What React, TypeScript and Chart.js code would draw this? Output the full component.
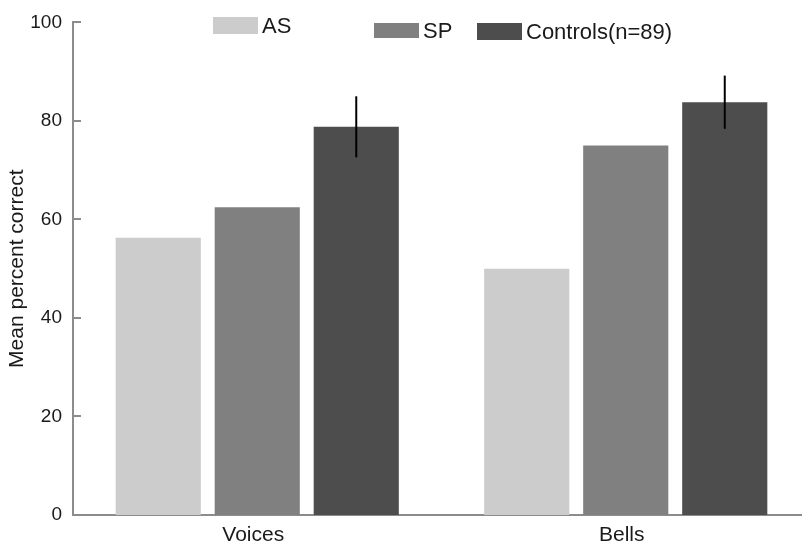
import React, { useEffect, useRef } from "react";
import { Chart, registerables } from "chart.js";

Chart.register(...registerables);

const categories = ["Voices", "Bells"];
const seriesNames = ["AS", "SP", "Controls(n=89)"];
const asValues = [56.3, 50.0];
const spValues = [62.5, 75.0];
const controlValues = [78.8, 83.8];
const controlErrors = [6.2, 5.4];
const yTicks = [0, 20, 40, 60, 80, 100];
const colors = ["#cccccc", "#808080", "#4d4d4d"];

// legend layout (free-placed in the original figure)
const legendBoxes = [
  { x: 213, y: 17, w: 45, h: 17 },
  { x: 374, y: 23, w: 45, h: 15 },
  { x: 477, y: 23, w: 45, h: 17 },
];

const FONT = "'Liberation Sans', Arial, sans-serif";
const AXIS_COLOR = "#8c8c8c";

export default function App() {
  const ref = useRef<HTMLCanvasElement | null>(null);

  useEffect(() => {
    document.body.style.margin = "0";
    const canvas = ref.current;
    if (!canvas) return;

    const extras = {
      id: "extras",
      afterDatasetsDraw(chart: any) {
        const ctx = chart.ctx;
        const y = chart.scales.y;
        const meta = chart.getDatasetMeta(2);
        ctx.save();
        ctx.strokeStyle = "#000000";
        ctx.lineWidth = 2;
        meta.data.forEach((bar: any, i: number) => {
          const v = controlValues[i];
          const e = controlErrors[i];
          ctx.beginPath();
          ctx.moveTo(bar.x, y.getPixelForValue(v + e));
          ctx.lineTo(bar.x, y.getPixelForValue(v - e));
          ctx.stroke();
        });
        // inward ticks on y axis
        ctx.strokeStyle = AXIS_COLOR;
        ctx.lineWidth = 2;
        const ax = chart.chartArea.left;
        yTicks.forEach((t) => {
          if (t === 0) return;
          const py = Math.round(y.getPixelForValue(t));
          ctx.beginPath();
          ctx.moveTo(ax, py);
          ctx.lineTo(ax + 8, py);
          ctx.stroke();
        });
        ctx.restore();
      },
      afterDraw(chart: any) {
        const ctx = chart.ctx;
        ctx.save();
        ctx.font = `22px ${FONT}`;
        ctx.textBaseline = "middle";
        ctx.textAlign = "left";
        seriesNames.forEach((name, i) => {
          const b = legendBoxes[i];
          ctx.fillStyle = colors[i];
          ctx.fillRect(b.x, b.y, b.w, b.h);
          ctx.fillStyle = "#1a1a1a";
          ctx.fillText(name, b.x + b.w + 4, b.y + b.h / 2 + 1);
        });
        ctx.restore();
      },
    };

    const chart = new Chart(canvas, {
      type: "bar",
      data: {
        labels: categories,
        datasets: [
          { label: seriesNames[0], data: asValues, backgroundColor: colors[0] },
          { label: seriesNames[1], data: spValues, backgroundColor: colors[1] },
          { label: seriesNames[2], data: controlValues, backgroundColor: colors[2] },
        ],
      },
      options: {
        animation: false,
        responsive: false,
        maintainAspectRatio: false,
        layout: { padding: { top: 20, right: 0, left: 0, bottom: 0 } },
        datasets: {
          bar: { categoryPercentage: 0.806, barPercentage: 0.86 },
        },
        plugins: {
          legend: { display: false },
          tooltip: { enabled: false },
        },
        scales: {
          x: {
            grid: { display: false, drawTicks: false },
            border: { display: true, color: AXIS_COLOR, width: 2 },
            ticks: {
              padding: 8,
              labelOffset: -4,
              color: "#1a1a1a",
              font: { family: FONT, size: 21 },
            },
            afterFit(scale: any) {
              scale.height = 29;
            },
          },
          y: {
            min: 0,
            max: 100,
            afterBuildTicks(scale: any) {
              scale.ticks = yTicks.map((v) => ({ value: v }));
            },
            grid: { display: false, drawTicks: false },
            border: { display: true, color: AXIS_COLOR, width: 2 },
            ticks: {
              padding: 11,
              color: "#1a1a1a",
              font: { family: FONT, size: 19 },
            },
            title: {
              display: true,
              text: "Mean percent correct",
              color: "#1a1a1a",
              font: { family: FONT, size: 21 },
              padding: { top: 5, bottom: 0 },
            },
            afterFit(scale: any) {
              scale.width = 73;
            },
          },
        },
      },
      plugins: [extras],
    });

    return () => chart.destroy();
  }, []);

  return (
    <div style={{ width: 802, height: 544, overflow: "hidden", background: "#ffffff" }}>
      <canvas ref={ref} width={810} height={544} style={{ display: "block" }} />
    </div>
  );
}
